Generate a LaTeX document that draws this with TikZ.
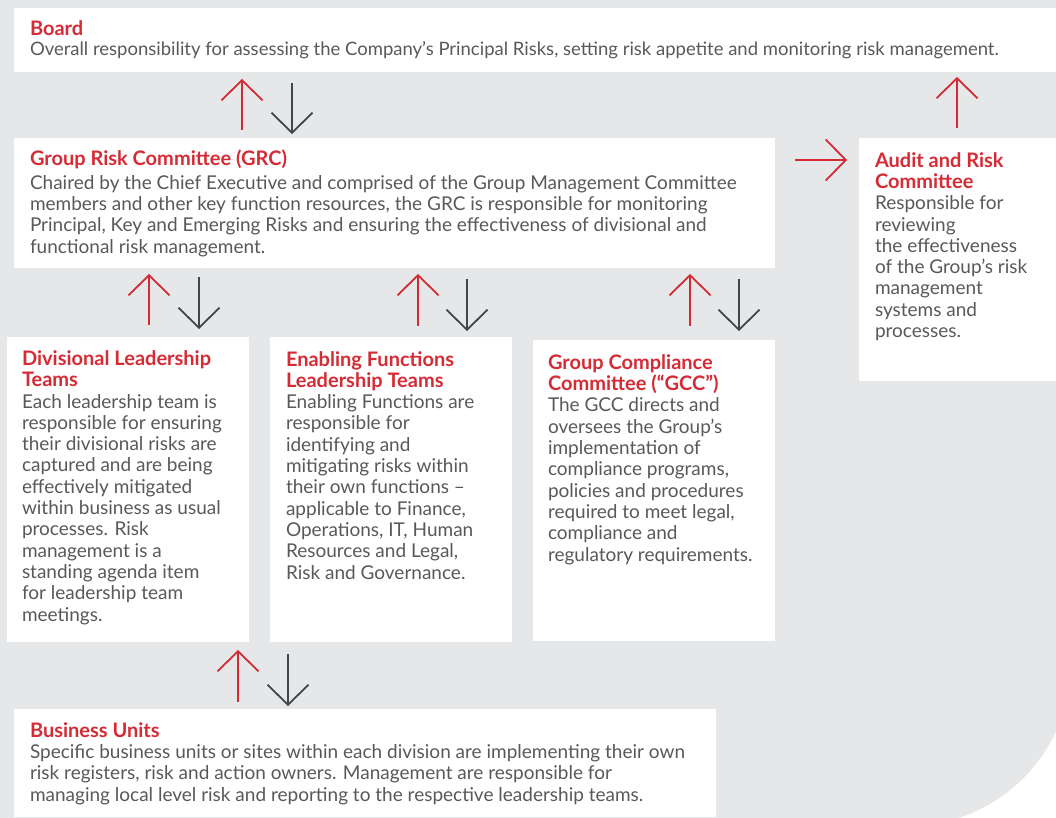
\documentclass[tikz,border=0pt]{standalone}
\usepackage{fontspec}
\setmainfont{Lato}
\usetikzlibrary{arrows.meta}
\definecolor{bggray}{HTML}{E6E7E8}
\definecolor{tred}{HTML}{D52B35}
\definecolor{tgray}{HTML}{58595B}
\definecolor{adark}{HTML}{444546}
\newcommand\hd[1]{{\color{tred}\fontsize{20bp}{21.3bp}\selectfont\bfseries #1}}
\begin{document}
\begin{tikzpicture}[x=1bp,y=-1bp,
  box/.style={fill=white, draw=none, inner sep=0pt, outer sep=0pt, anchor=north west},
  txt/.style={anchor=base west, align=left, inner sep=0pt, outer sep=0pt, text=tgray,
    font=\fontsize{19bp}{21.3bp}\selectfont},
  uparr/.style={draw=tred, line width=1.8bp, -{Straight Barb[length=20bp,width=41bp]}},
  dnarr/.style={draw=adark, line width=1.8bp, -{Straight Barb[length=20bp,width=41bp]}}
]
\useasboundingbox (0,0) rectangle (1056,818);
\begin{scope}
  \clip (0,0) rectangle (1056,818);
  \fill[bggray, rounded corners=163bp] (-300,-300) rectangle (1071,826);
\end{scope}

% boxes
\node[box, minimum width=1042bp, minimum height=64bp]  (board) at (14,8) {};
\node[box, minimum width=761bp,  minimum height=130bp] (grc)   at (14,138) {};
\node[box, minimum width=197bp,  minimum height=243bp] (audit) at (859,138) {};
\node[box, minimum width=242bp,  minimum height=305bp] (div)   at (7,337) {};
\node[box, minimum width=242bp,  minimum height=305bp] (enab)  at (270,337) {};
\node[box, minimum width=242bp,  minimum height=301bp] (gcc)   at (533,340) {};
\node[box, minimum width=702bp,  minimum height=108bp] (bu)    at (14,709) {};

% texts (anchor = baseline of the last line)
\node[txt] (boardtxt) at (30,55.7) {\hd{Board}\\[-1.6bp]
{\fontsize{18.5bp}{21.3bp}\selectfont Overall responsibility for assessing the Company’s Principal Risks, setting risk appetite and monitoring risk management.}};
\node[txt] (grctxt) at (30,253) {\hd{Group Risk Committee (GRC)}\\[2bp]
Chaired by the Chief Executive and comprised of the Group Management Committee\\
members and other key function resources, the GRC is responsible for monitoring\\
Principal, Key and Emerging Risks and ensuring the effectiveness of divisional and\\
functional risk management.};
\node[txt] (audittxt) at (875,337.5) {\hd{Audit and Risk}\\\hd{Committee}\\
Responsible for\\reviewing\\the effectiveness\\of the Group’s risk\\management\\systems and\\processes.};
\node[txt] (divtxt) at (22,621) {\hd{Divisional Leadership}\\\hd{Teams}\\
Each leadership team is\\responsible for ensuring\\their divisional risks are\\captured and are being\\effectively mitigated\\within business as usual\\processes. Risk\\management is a\\standing agenda item\\for leadership team\\meetings.};
\node[txt] (enabtxt) at (286,579) {\hd{Enabling Functions}\\\hd{Leadership Teams}\\
Enabling Functions are\\responsible for\\identifying and\\mitigating risks within\\their own functions –\\applicable to Finance,\\Operations, IT, Human\\Resources and Legal,\\Risk and Governance.};
\node[txt] (gcctxt) at (548,561) {\hd{Group Compliance}\\\hd{Committee (“GCC”)}\\
The GCC directs and\\oversees the Group’s\\implementation of\\compliance programs,\\policies and procedures\\required to meet legal,\\compliance and\\regulatory requirements.};
\node[txt] (butxt) at (30,801) {\hd{Business Units}\\
Specific business units or sites within each division are implementing their own\\
risk registers, risk and action owners. Management are responsible for\\
managing local level risk and reporting to the respective leadership teams.};

% arrow end points
\coordinate (r1a) at (242,130); \coordinate (r1b) at (242,79);
\coordinate (g1a) at (292,83);  \coordinate (g1b) at (292,134);
\coordinate (r2a) at (149,325); \coordinate (r2b) at (149,274);
\coordinate (g2a) at (199,277); \coordinate (g2b) at (199,329);
\coordinate (r3a) at (418,326); \coordinate (r3b) at (418,274);
\coordinate (g3a) at (467,279); \coordinate (g3b) at (467,331);
\coordinate (r4a) at (690,326); \coordinate (r4b) at (690,274);
\coordinate (g4a) at (739,279); \coordinate (g4b) at (739,331);
\coordinate (r5a) at (238,702); \coordinate (r5b) at (238,650);
\coordinate (g5a) at (288,654); \coordinate (g5b) at (288,706);
\coordinate (r6a) at (957,128); \coordinate (r6b) at (957,77);
\coordinate (r7a) at (795,160); \coordinate (r7b) at (847,160);

\draw[uparr] (r1a) -- (r1b);
\draw[dnarr] (g1a) -- (g1b);
\draw[uparr] (r2a) -- (r2b);
\draw[dnarr] (g2a) -- (g2b);
\draw[uparr] (r3a) -- (r3b);
\draw[dnarr] (g3a) -- (g3b);
\draw[uparr] (r4a) -- (r4b);
\draw[dnarr] (g4a) -- (g4b);
\draw[uparr] (r5a) -- (r5b);
\draw[dnarr] (g5a) -- (g5b);
\draw[uparr] (r6a) -- (r6b);
\draw[uparr] (r7a) -- (r7b);
\end{tikzpicture}
\end{document}
